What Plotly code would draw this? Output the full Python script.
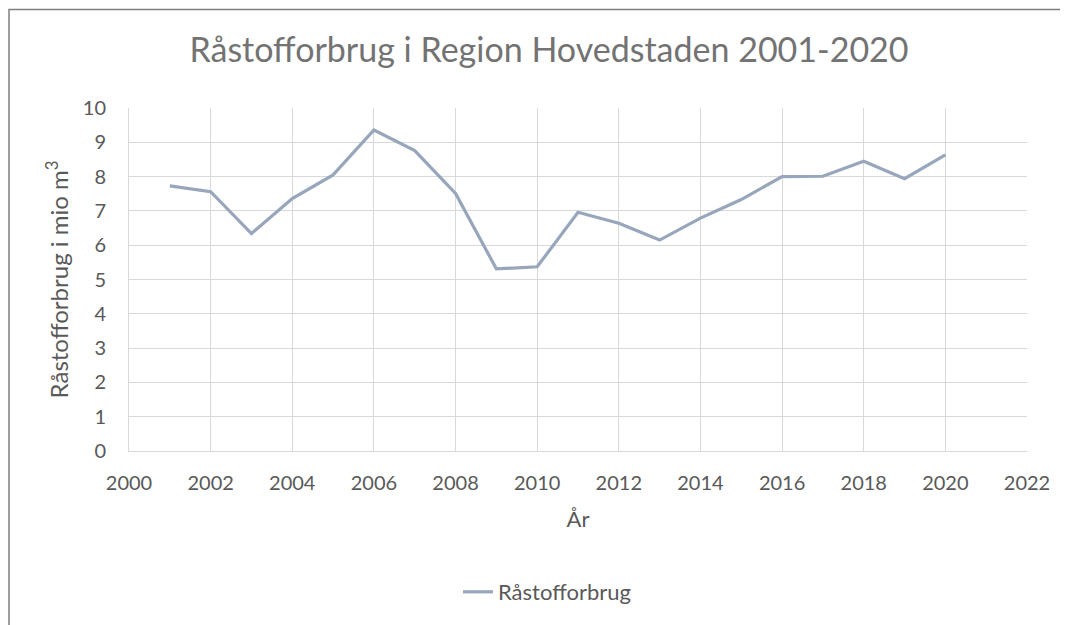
import plotly.graph_objects as go

years = list(range(2001, 2021))
values = [7.73, 7.56, 6.34, 7.36, 8.05, 9.36, 8.76, 7.51, 5.31, 5.37,
          6.96, 6.64, 6.15, 6.79, 7.33, 8.00, 8.01, 8.45, 7.94, 8.63]
series_name = "Råstofforbrug"
title_text = "Råstofforbrug i Region Hovedstaden 2001-2020"
x_title = "År"
y_title = "Råstofforbrug i mio m<sup>3</sup>"

FONT = "Lato"
GRAY = "#595959"
TITLE_GRAY = "#737373"
GRID = "#D9D9D9"
LINE = "#97A6BB"

OFF = 8  # page body margin
W, H = 1068 - OFF, 625 - OFF
# targets in screen pixels
sL, sR, sT, sB = 129, 1027, 108, 451
L, T = sL - OFF, sT - OFF
R = W - (sR - OFF)
B = H - (sB - OFF)
pw, ph = W - L - R, H - T - B

def px(xs):
    return (xs - OFF - L) / pw

def py(ys):
    return (H - B - (ys - OFF)) / ph

fig = go.Figure()
fig.add_trace(go.Scatter(x=years, y=values, mode="lines", name=series_name,
                         line=dict(color=LINE, width=3.2)))

fig.update_layout(
    width=W, height=H,
    margin=dict(l=L, r=R, t=T, b=B, autoexpand=False),
    paper_bgcolor="white", plot_bgcolor="white",
    font=dict(family=FONT, color=GRAY),
    title=dict(text=title_text, x=(549 - OFF) / W, xanchor="center",
               y=1 - (50 - OFF) / H, yanchor="middle",
               font=dict(size=34, color=TITLE_GRAY, family=FONT)),
    showlegend=True,
    legend=dict(orientation="h", x=px(458), xanchor="left", y=py(592), yanchor="middle",
                font=dict(size=22, color=GRAY, family=FONT),
                bgcolor="rgba(0,0,0,0)"),
    xaxis=dict(range=[2000, 2022], tickmode="linear", tick0=2000, dtick=2,
               showgrid=True, gridcolor=GRID, gridwidth=1,
               showline=True, linecolor=GRID, linewidth=1, mirror=False,
               zeroline=False, ticks="outside", ticklen=14, tickcolor="rgba(0,0,0,0)",
               tickfont=dict(size=20, color=GRAY, family=FONT),
               title=dict(text=x_title, font=dict(size=22, color=GRAY, family=FONT), standoff=18)),
    yaxis=dict(range=[0, 10], tickmode="linear", tick0=0, dtick=1,
               showgrid=True, gridcolor=GRID, gridwidth=1,
               showline=True, linecolor=GRID, linewidth=1,
               zeroline=False, ticks="outside", ticklen=18, tickcolor="rgba(0,0,0,0)",
               tickfont=dict(size=20, color=GRAY, family=FONT),
               title=dict(text=y_title, font=dict(size=24, color=GRAY, family=FONT), standoff=7)),
)

# outer chart-area border (extends past right and bottom edges)
fig.add_shape(type="rect", xref="paper", yref="paper",
              x0=px(9), x1=px(1090), y0=py(650), y1=py(9.5),
              line=dict(color="#7F7F7F", width=1.5), fillcolor="rgba(0,0,0,0)", layer="below")

fig.write_html("out.html")
